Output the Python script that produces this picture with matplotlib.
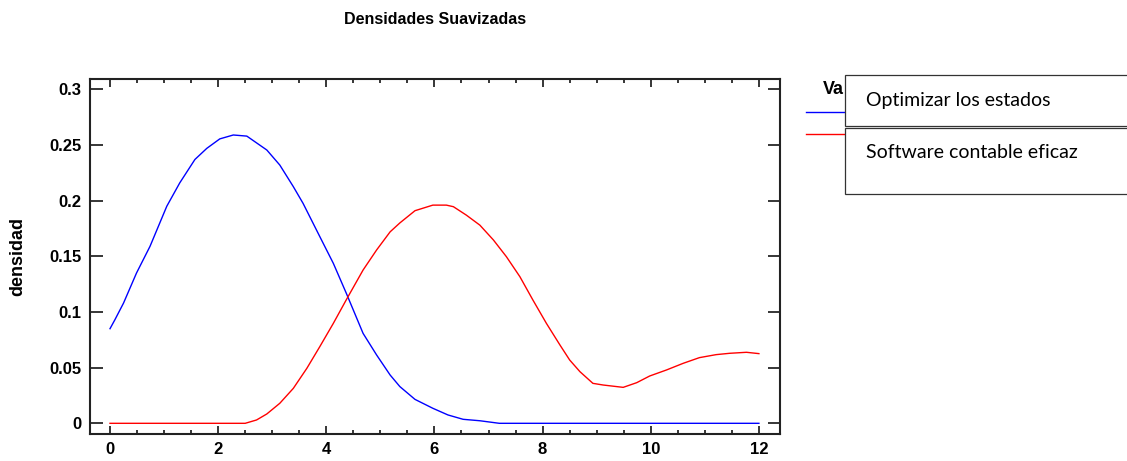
import matplotlib
matplotlib.use("Agg")
import matplotlib.pyplot as plt
from matplotlib.patches import Rectangle
from matplotlib.lines import Line2D
from matplotlib.ticker import MultipleLocator

# ---- data ----
blue_x = [0.0, 0.09, 0.25, 0.49, 0.74, 1.05, 1.29, 1.57, 1.79, 2.03, 2.28, 2.53, 2.9, 3.14,
          3.39, 3.57, 3.88, 4.13, 4.37, 4.68, 4.93, 5.18, 5.36, 5.64, 5.97, 6.25, 6.53,
          6.84, 7.2, 8.0, 9.0, 10.0, 11.0, 12.0]
blue_y = [0.085, 0.093, 0.108, 0.135, 0.159, 0.195, 0.216, 0.237, 0.247, 0.2555, 0.259, 0.258,
          0.2455, 0.232, 0.2126, 0.1976, 0.1677, 0.1437, 0.1168, 0.0808, 0.0614, 0.0434,
          0.033, 0.0215, 0.0135, 0.0075, 0.0036, 0.0023, 0.0, 0.0, 0.0, 0.0, 0.0, 0.0]

red_x = [0.0, 1.0, 2.0, 2.5, 2.71, 2.9, 3.14, 3.39, 3.64, 3.88, 4.13, 4.37, 4.68, 4.93, 5.18,
         5.36, 5.64, 5.97, 6.22, 6.35, 6.59, 6.84, 7.09, 7.33, 7.58, 7.82, 8.07, 8.32, 8.5,
         8.69, 8.93, 9.12, 9.49, 9.74, 9.98, 10.29, 10.6, 10.9, 11.21, 11.46, 11.77, 12.0]
red_y = [0.0, 0.0, 0.0, 0.0, 0.003, 0.0084, 0.018, 0.0314, 0.0494, 0.0689, 0.0898, 0.111,
         0.1377, 0.1557, 0.172, 0.18, 0.191, 0.196, 0.196, 0.1946, 0.187, 0.178, 0.1647,
         0.1497, 0.1317, 0.1108, 0.0898, 0.0704, 0.0569, 0.0464, 0.0359, 0.0344, 0.0323,
         0.0365, 0.0425, 0.0479, 0.0539, 0.059, 0.0617, 0.0629, 0.0638, 0.0626]

title = "Densidades Suavizadas"
ylabel = "densidad"
legend_title = "Va"
series_names = ["Optimizar los estados", "Software contable eficaz"]
yticks = [0, 0.05, 0.1, 0.15, 0.2, 0.25, 0.3]
ytick_labels = ["0", "0.05", "0.1", "0.15", "0.2", "0.25", "0.3"]
xticks = [0, 2, 4, 6, 8, 10, 12]

W, H = 1127, 461
fig = plt.figure(figsize=(W / 100, H / 100), dpi=100)

def fx(px):
    return px / W

def fy(py):
    return 1 - py / H

ax = fig.add_axes([fx(90), fy(434), (780 - 90) / W, (434 - 79) / H])
ax.plot(blue_x, blue_y, color="#0000ff", lw=1.0)
ax.plot(red_x, red_y, color="#ff0000", lw=1.0)
ax.set_xlim(-0.37, 12.39)
ax.set_ylim(-0.0096, 0.3093)

font = "Liberation Sans"
ax.set_xticks(xticks)
ax.set_xticklabels([str(v) for v in xticks], fontsize=12, fontweight="bold", family=font)
ax.set_yticks(yticks)
ax.set_yticklabels(ytick_labels, fontsize=12, fontweight="bold", family=font)
ax.xaxis.set_minor_locator(MultipleLocator(0.5))
ax.tick_params(axis="x", which="major", direction="in", length=5.5, width=1.1,
               top=True, bottom=True, pad=6)
ax.tick_params(axis="x", which="minor", direction="in", length=3, width=1.1,
               top=True, bottom=True)
ax.tick_params(axis="y", which="major", direction="in", length=9, width=1.1,
               left=True, right=True, pad=6)
for s in ax.spines.values():
    s.set_linewidth(1.5)
    s.set_color("#222222")

fig.text(fx(435), fy(19), title, ha="center", va="center", fontsize=11.5,
         fontweight="bold", family=font)
fig.text(fx(18), fy(257), ylabel, ha="center", va="center", rotation=90,
         fontsize=13, fontweight="bold", family=font)

# legend (partially covered by text boxes)
fig.text(fx(823), fy(89), legend_title, ha="left", va="center", fontsize=13,
         fontweight="bold", family=font)
fig.add_artist(Line2D([fx(806), fx(846)], [fy(112), fy(112)], color="#0000ff", lw=1.0,
                      transform=fig.transFigure))
fig.add_artist(Line2D([fx(806), fx(846)], [fy(134), fy(134)], color="#ff0000", lw=1.0,
                      transform=fig.transFigure))

# overlaid white boxes with series names
boxes = [(75.5, 125.5), (128.5, 194)]
for (top, bot), name in zip(boxes, series_names):
    rect = Rectangle((fx(845), fy(bot)), fx(1140) - fx(845), fy(top) - fy(bot),
                     transform=fig.transFigure, facecolor="white",
                     edgecolor="#333333", lw=0.9, zorder=5, clip_on=False)
    fig.add_artist(rect)
centers = [100.7, 153]
for c, name in zip(centers, series_names):
    fig.text(fx(866), fy(c), name, ha="left", va="center", fontsize=14,
             family="Lato", zorder=6)

fig.savefig("out.png", dpi=100)
